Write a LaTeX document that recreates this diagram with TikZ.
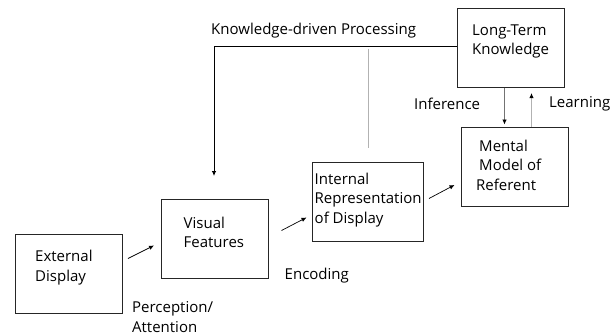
\documentclass[tikz,border=0pt]{standalone}
\usepackage{fontspec}
\setmainfont{Open Sans}
\usetikzlibrary{arrows.meta}

\tikzset{
	box/.style = {draw = black!85, line width = 0.8pt, minimum width = 107pt, minimum height = 79pt, inner sep = 0pt},
	txt/.style = {anchor = west, align = left, inner sep = 0pt, font = \fontsize{15}{19.5}\selectfont},
	tip/.style = {-{Latex[length = 5pt, width = 4.5pt, color = black]}},
}

\begin{document}
\begin{tikzpicture}[x = 1pt, y = -1pt]
	\useasboundingbox (0, 0) rectangle (613, 335);

	% boxes
	\node[box] (ext) at (68.5, 273.5) {};
	\node[box] (vis) at (215, 238.5) {};
	\node[box, minimum width = 111pt] (int) at (367.5, 202) {};
	\node[box] (men) at (515, 167) {};
	\node[box] (ltk) at (511, 48) {};

	% box texts
	\node[txt] (extT) at (35, 267.5) {External\\Display};
	\node[txt] (visT) at (183.5, 232.5) {Visual\\Features};
	\node[txt] (intT) at (314.5, 200) {Internal\\Representation\\of Display};
	\node[txt] (menT) at (476, 165) {\hspace{3pt}Mental\\\hspace{3pt}Model of\\Referent};
	\node[txt] (ltkT) at (472, 41.5) {Long-Term\\Knowledge};

	% labels
	\node[txt] (kdp) at (211, 31) {Knowledge-driven Processing};
	\node[txt] (inf) at (414, 104) {Inference};
	\node[txt] (lrn) at (549, 104) {Learning};
	\node[txt] (enc) at (284.5, 275.5) {Encoding};
	\node[txt] (per) at (132, 317) {Perception/\\Attention};

	% diagonal arrows
	\coordinate (a1) at (128, 258.5);  \coordinate (b1) at (154, 245.5);
	\coordinate (a2) at (281.5, 230.5); \coordinate (b2) at (306.5, 217.5);
	\coordinate (a3) at (429, 198.5);  \coordinate (b3) at (454.5, 185);
	\foreach \i in {1, 2, 3} {
		\draw[tip, line width = 0.7pt] (a\i) -- (b\i);
	}

	% knowledge-driven loop
	\coordinate (kd) at (214, 46);
	\coordinate (kdEnd) at (214, 176);
	\draw[tip, line width = 0.8pt] (ltk.west |- kd) -- (kd) -- (kdEnd);
	\coordinate (gTop) at (368.5, 48.5);
	\draw[black!30, line width = 1pt] (gTop) -- (gTop |- 0, 148);

	% inference and learning
	\draw[tip, black!55, line width = 0.8pt] (ltk.south -| 504.5, 0) -- (504.5, 124.5);
	\draw[tip, black!30, line width = 1pt] (men.north -| 531.5, 0) -- (531.5, 93);
\end{tikzpicture}
\end{document}
